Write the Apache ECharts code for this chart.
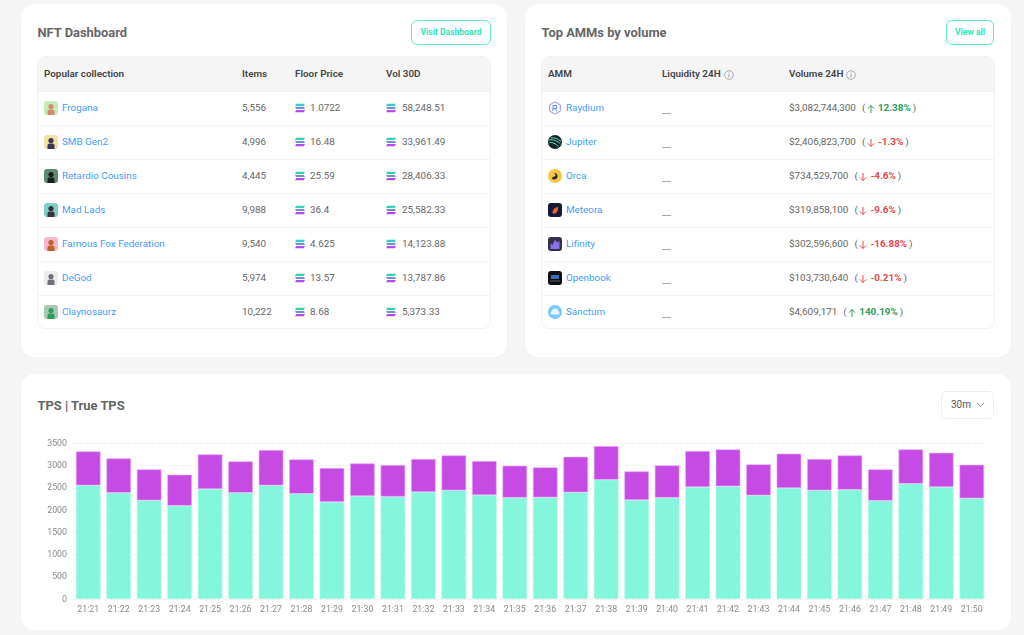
<!DOCTYPE html>
<html>

<head>
    <meta charset="utf-8">
    <title>Dashboard</title>
    <script src="https://cdn.jsdelivr.net/npm/echarts@6/dist/echarts.min.js"></script>
    <style>
        html, body { margin: 0; padding: 0; width: 1024px; height: 635px; overflow: hidden; background: #f5f5f5; font-family: Roboto, sans-serif; color: #666; }
        .card { position: absolute; background: #fff; border-radius: 14px; }
        .title { position: absolute; font-size: 12.9px; font-weight: 700; color: #666; line-height: 16px; }
        .btn { position: absolute; box-sizing: border-box; border: 1.3px solid #5cecc9; border-radius: 6px; color: #2fe8bb; font-size: 8.6px; font-weight: 700; text-align: center; }
        .tbl { position: absolute; box-sizing: border-box; border: 1px solid #f3f3f3; border-radius: 8px; overflow: hidden; }
        .head { position: absolute; left: 0; right: 0; top: 0; height: 35px; background: #f5f5f5; }
        .row { position: absolute; left: 0; right: 0; height: 34px; border-top: 1px solid #f3f3f3; box-sizing: border-box; }
        .c { position: absolute; white-space: nowrap; font-size: 9.9px; line-height: 12px; }
        .head .c { top: 11px !important; }
        .h { font-weight: 600; color: #444; }
        .link { color: #3f9dff; }
        .up { color: #2e9e5b; font-weight: 700; }
        .down { color: #e5484d; font-weight: 700; }
        .ico { position: absolute; }
        #sel { position: absolute; left: 941px; top: 391px; width: 53px; height: 28px; box-sizing: border-box; border: 1px solid #eee; border-radius: 5px; font-size: 10px; line-height: 26px; padding-left: 9px; color: #555; background: #fff; }
        #main { position: absolute; left: 21px; top: 374px; width: 990px; height: 256px; }
    </style>
</head>

<body>
    <div class="card" style="left:21px;top:4px;width:486px;height:353px"></div>
    <div class="card" style="left:524.5px;top:4px;width:486.5px;height:353px"></div>
    <div class="card" style="left:21px;top:374px;width:990px;height:256px"></div>

    <div class="title" style="left:37.5px;top:25px">NFT Dashboard</div>
    <div class="btn" style="left:411px;top:20px;width:80px;height:25px;line-height:23px">Visit Dashboard</div>
    <div class="tbl" id="nft" style="left:37px;top:56px;width:454px;height:273px"></div>

    <div class="title" style="left:541.5px;top:25px">Top AMMs by volume</div>
    <div class="btn" style="left:946px;top:20px;width:48px;height:25px;line-height:23px">View all</div>
    <div class="tbl" id="amm" style="left:541px;top:56px;width:454px;height:273px"></div>

    <div class="title" style="left:37.5px;top:398px">TPS | True TPS</div>
    <div id="main"></div>
    <div id="sel">30m<svg style="position:absolute;left:34px;top:10px" width="9" height="6" viewBox="0 0 9 6"><path d="M1 1l3.5 3.5L8 1" fill="none" stroke="#888" stroke-width="0.9"/></svg></div>

    <script type="text/javascript">
        // NFT table
        var nftNames = ['Frogana', 'SMB Gen2', 'Retardio Cousins', 'Mad Lads', 'Famous Fox Federation', 'DeGod', 'Claynosaurz'];
        var nftItems = ['5,556', '4,996', '4,445', '9,988', '9,540', '5,974', '10,222'];
        var nftFloor = ['1.0722', '16.48', '25.59', '36.4', '4.625', '13.57', '8.68'];
        var nftVol = ['58,248.51', '33,961.49', '28,406.33', '25,582.33', '14,123.88', '13,787.86', '5,373.33'];
        var nftBg = ['#c4ecb8', '#f2e2a0', '#5d8a70', '#7fcfc8', '#f5b8c8', '#ececec', '#a8c8b4'];
        var nftFg = ['#d98a6a', '#3a3560', '#1c1c1c', '#3a3040', '#c0602a', '#70707a', '#2f9c5c'];

        // AMM table
        var ammNames = ['Raydium', 'Jupiter', 'Orca', 'Meteora', 'Lifinity', 'Openbook', 'Sanctum'];
        var ammVolume = ['$3,082,744,300', '$2,406,823,700', '$734,529,700', '$319,858,100', '$302,596,600', '$103,730,640', '$4,609,171'];
        var ammChange = ['12.38%', '-1.3%', '-4.6%', '-9.6%', '-16.88%', '-0.21%', '140.19%'];

        // chart
        var times = ['21:21', '21:22', '21:23', '21:24', '21:25', '21:26', '21:27', '21:28', '21:29', '21:30',
            '21:31', '21:32', '21:33', '21:34', '21:35', '21:36', '21:37', '21:38', '21:39', '21:40',
            '21:41', '21:42', '21:43', '21:44', '21:45', '21:46', '21:47', '21:48', '21:49', '21:50'];
        var trueTps = [2554, 2389, 2217, 2097, 2472, 2389, 2554, 2367, 2180, 2314,
            2300, 2404, 2442, 2337, 2277, 2284, 2397, 2681, 2225, 2277,
            2517, 2532, 2329, 2494, 2442, 2457, 2210, 2592, 2517, 2262];
        var otherTps = [764, 772, 697, 697, 779, 704, 794, 771, 764, 734,
            711, 742, 786, 764, 719, 675, 801, 757, 644, 726,
            809, 831, 697, 772, 704, 771, 704, 771, 771, 756];

        // small logos, drawn roughly
        var ammLogos = [
            '<path d="M7 .8l5.3 3.1v6.2L7 13.2 1.7 10.1V3.9z" fill="none" stroke="#9a86f5" stroke-width="1"/><path d="M5 10V4.5h3.6v3H5M7 7.5l2 2.5" fill="none" stroke="#5a8cf0" stroke-width="1"/>',
            '<circle cx="7" cy="7" r="7" fill="#10282c"/><path d="M1.5 5c4-1 8 1 11 4M1.5 7.5c3-.5 6 1 9 4M3 3c4-.8 7 .8 10 3.5" fill="none" stroke="#5fd8b8" stroke-width="1"/>',
            '<circle cx="7" cy="7" r="7" fill="#f7c648"/><path d="M4 10c2 1 5 .5 5.5-2S8 3.5 6 4c2 1 2 3 .5 3.5S4 8 4 10z" fill="#2a2a2a"/>',
            '<rect width="14" height="14" rx="3" fill="#141a38"/><path d="M4.5 10c0-3 2-5.5 5.5-6 .3 3-1 6-3 6.500-1 .3-2 .2-2.500-.5z" fill="#e8632c"/>',
            '<rect width="14" height="14" rx="3" fill="#34304a"/><path d="M2.500 12V6.500l2 1.500 2.500-5.500 2 3 2.500-1.500V12z" fill="#8a70f0"/>',
            '<rect width="14" height="14" rx="3" fill="#101014"/><rect x="3" y="4" width="8" height="4" fill="#3a70c0"/><rect x="2" y="9.500" width="10" height="1" fill="#5a5a60"/>',
            '<circle cx="7" cy="7" r="7" fill="#7cc8fa"/><path d="M3.500 9.500a2 2 0 0 1 .3-3.500 3.300 3.300 0 0 1 6.400 0 2 2 0 0 1 .3 3.500z" fill="#e8f6ff"/>'
        ];

        function solIcon(x) {
            return '<svg class="ico" style="left:' + x + 'px;top:11px" width="10" height="10" viewBox="0 0 10 10">'
                + '<path d="M1.2 .8h8.800l-1.200 2.200H0z" fill="#2fd3b5"/><path d="M0 4h8.800l1.200 2H1.200z" fill="#6c8fe0"/><path d="M1.200 7h8.800l-1.200 2.200H0z" fill="#b44be8"/></svg>';
        }

        function infoIcon(x) {
            return '<svg class="ico" style="left:' + x + 'px;top:13px" width="10" height="10" viewBox="0 0 10 10">'
                + '<circle cx="5" cy="5" r="4.3" fill="none" stroke="#999" stroke-width="0.8"/><path d="M5 4.3v3M5 2.600v0.9" stroke="#999" stroke-width="0.9"/></svg>';
        }

        function nftIcon(i) {
            return '<svg class="ico" style="left:6px;top:9px" width="14" height="14" viewBox="0 0 14 14"><rect width="14" height="14" rx="3" fill="' + nftBg[i] + '"/>'
                + '<circle cx="7" cy="5.500" r="2.600" fill="' + nftFg[i] + '"/><path d="M3.500 14v-3.500q0-2 2-2h3q2 0 2 2V14z" fill="' + nftFg[i] + '"/></svg>';
        }

        function ammIcon(i) {
            return '<svg class="ico" style="left:6px;top:9px" width="14" height="14" viewBox="0 0 14 14">' + ammLogos[i] + '</svg>';
        }

        function arrow(x, up) {
            var color = up ? '#2e9e5b' : '#e5484d';
            var path = up ? 'M5 9V1.500M1.800 4.700L5 1.500l3.200 3.200' : 'M5 1v7.500M1.800 5.300L5 8.500l3.200-3.200';
            return '<svg class="ico" style="left:' + x + 'px;top:11.5px" width="10" height="10" viewBox="0 0 10 10"><path d="' + path + '" fill="none" stroke="' + color + '" stroke-width="1"/></svg>';
        }

        function cell(x, text, cls) {
            return '<div class="c ' + (cls || '') + '" style="left:' + x + 'px;top:10px">' + text + '</div>';
        }

        function buildNft() {
            var html = '<div class="head">' + cell(6, 'Popular collection', 'h') + cell(204, 'Items', 'h') + cell(257, 'Floor Price', 'h') + cell(348, 'Vol 30D', 'h') + '</div>';
            for (var i = 0; i < nftNames.length; i++) {
                html += '<div class="row" style="top:' + (34 + i * 34) + 'px">' + nftIcon(i) + cell(24, nftNames[i], 'link') + cell(204, nftItems[i])
                    + solIcon(257) + cell(272, nftFloor[i]) + solIcon(348) + cell(364, nftVol[i]) + '</div>';
            }
            document.getElementById('nft').innerHTML = html;
        }

        // text widths, so the change figure and its bracket sit right after the volume
        function textWidth(text, font) {
            var ctx = document.createElement('canvas').getContext('2d');
            ctx.font = font;
            return ctx.measureText(text).width;
        }

        function buildAmm() {
            var html = '<div class="head">' + cell(6, 'AMM', 'h') + cell(120, 'Liquidity 24H', 'h') + infoIcon(182) + cell(247, 'Volume 24H', 'h') + infoIcon(304) + '</div>';
            for (var i = 0; i < ammNames.length; i++) {
                var up = ammChange[i].charAt(0) != '-';
                var x = 247 + textWidth(ammVolume[i], '9.9px Roboto') + 6;
                var w = textWidth(ammChange[i], 'bold 9.9px Roboto');
                html += '<div class="row" style="top:' + (34 + i * 34) + 'px">' + ammIcon(i) + cell(24, ammNames[i], 'link')
                    + '<div class="c" style="left:120px;top:12px;color:#888">__</div>' + cell(247, ammVolume[i])
                    + cell(x, '(') + arrow(x + 4, up) + cell(x + 16, ammChange[i], up ? 'up' : 'down')
                    + cell(x + 18 + w, ')') + '</div>';
            }
            document.getElementById('amm').innerHTML = html;
        }

        buildNft();
        buildAmm();

        var myChart = echarts.init(document.getElementById('main'), null, { renderer: 'canvas' });
        var option = {
            animation: false,
            textStyle: { fontFamily: 'Roboto' },
            grid: { left: 52, right: 24, top: 69.3, bottom: 31 },
            xAxis: {
                type: 'category',
                data: times,
                axisLine: { show: false },
                axisTick: { show: false },
                axisLabel: { color: '#8a8a90', fontSize: 8.8, margin: 6, interval: 0 }
            },
            yAxis: {
                type: 'value',
                min: 0,
                max: 3500,
                interval: 500,
                axisLine: { show: false },
                axisTick: { show: false },
                axisLabel: {
                    color: '#8a8a90',
                    fontSize: 8.8,
                    margin: 6,
                    verticalAlign: 'top',
                    lineHeight: 1,
                    formatter: function (v) { return String(v); }
                },
                splitLine: { lineStyle: { color: '#f1f1f1', type: 'dashed', width: 1 } }
            },
            series: [{
                name: 'True TPS',
                type: 'bar',
                stack: 'tps',
                barWidth: 24.6,
                itemStyle: { color: '#83f6dc', borderColor: '#b5f9ea', borderWidth: 0.6 },
                data: trueTps
            }, {
                name: 'TPS',
                type: 'bar',
                stack: 'tps',
                barWidth: 24.6,
                itemStyle: { color: '#c64be4', borderColor: '#e6b0f4', borderWidth: 0.6 },
                data: otherTps
            }]
        };
        myChart.setOption(option);
    </script>
</body>

</html>
